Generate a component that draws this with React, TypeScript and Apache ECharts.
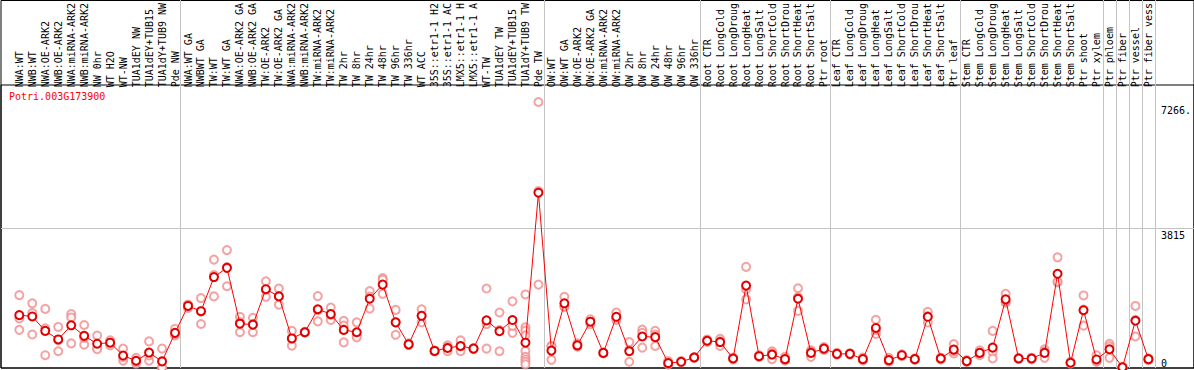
import React, { useEffect, useRef } from "react";
import * as echarts from "echarts";

const geneName = "Potri.003G173900";

const categories = [
  "NWA:WT", "NWB:WT", "NWA:OE-ARK2", "NWB:OE-ARK2", "NWA:miRNA-ARK2", "NWB:miRNA-ARK2",
  "NW 0hr", "WT H2O", "WT-NW", "TUA1dEY NW", "TUA1dEY+TUB15", "TUA1dY+TUB9 NW", "Pde NW",
  "NWA:WT GA", "NWBWT GA", "TW:WT", "TW:WT GA", "NWA:OE-ARK2 GA", "NWB:OE-ARK2 GA",
  "TW:OE-ARK2", "TW:OE-ARK2 GA", "NWA:miRNA-ARK2", "NWB:miRNA-ARK2", "TW:miRNA-ARK2",
  "TW:miRNA-ARK2", "TW 2hr", "TW 8hr", "TW 24hr", "TW 48hr", "TW 96hr", "TW 336hr",
  "WT ACC", "35S::etr1-1 H2", "35S::etr1-1 AC", "LMX5::etr1-1 H", "LMX5::etr1-1 A",
  "WT-TW", "TUA1dEY TW", "TUA1dEY+TUB15", "TUA1dY+TUB9 TW", "Pde TW",
  "OW:WT", "OW:WT GA", "OW:OE-ARK2", "OW:OE-ARK2 GA", "OW:miRNA-ARK2", "OW:miRNA-ARK2",
  "OW 2hr", "OW 8hr", "OW 24hr", "OW 48hr", "OW 96hr", "OW 336hr",
  "Root CTR", "Root LongCold", "Root LongDroug", "Root LongHeat", "Root LongSalt",
  "Root ShortCold", "Root ShortDrou", "Root ShortHeat", "Root ShortSalt", "Ptr root",
  "Leaf CTR", "Leaf LongCold", "Leaf LongDroug", "Leaf LongHeat", "Leaf LongSalt",
  "Leaf ShortCold", "Leaf ShortDrou", "Leaf ShortHeat", "Leaf ShortSalt", "Ptr leaf",
  "Stem CTR", "Stem LongCold", "Stem LongDroug", "Stem LongHeat", "Stem LongSalt",
  "Stem ShortCold", "Stem ShortDrou", "Stem ShortHeat", "Stem ShortSalt", "Ptr shoot",
  "Ptr xylem", "Ptr phloem", "Ptr fiber", "Ptr vessel", "Ptr fiber vess",
];

const means = [
  1463, 1426, 1027, 790, 1181, 890, 672, 700, 345, 200, 427, 182, 972,
  1717, 1572, 2516, 2771, 1226, 1199, 2180, 1981, 818, 989, 1626, 1490, 1054, 989,
  1916, 2307, 1263, 654, 1444, 472, 554, 608, 536, 1317, 1017, 1327, 700, 4850,
  481, 1790, 627, 1281, 418, 1417, 463, 872, 854, 136, 172, 291,
  754, 718, 263, 2280, 327, 372, 245, 1916, 418, 536,
  391, 391, 245, 1108, 218, 354, 245, 1417, 263, 509,
  191, 418, 563, 1899, 263, 263, 418, 2607, 145, 1599,
  236, 518, 18, 1308, 245,
];

const replicates = [
  [2016, 1371, 1055], [1790, 1517, 926], [1635, 1099, 354], [1136, 463, 770],
  [1490, 1399, 681], [1190, 645, 835], [899, 554, 518], [763, 672, 627],
  [536, 200, 300], [282, 118, 172], [736, 200, 345], [536, 15, 10], [1081, 899, 935],
  [1753, 1662, 1735], [1935, 1218, 1563], [2998, 2570, 1981], [3262, 2262, 2790],
  [1417, 989, 1272], [1390, 989, 1218], [2398, 1970, 2172], [2199, 1753, 1991],
  [1027, 618, 809], [1000, 975, 992], [1989, 1290, 1600], [1671, 1327, 1472],
  [1308, 1172, 709], [1263, 899, 845], [2126, 1644, 1978], [2489, 2443, 2053],
  [1608, 918, 1263], [680, 640, 642], [1626, 1263, 1444], [490, 460, 466],
  [627, 463, 570], [763, 463, 600], [550, 520, 538], [2199, 536, 1216],
  [1535, 463, 1052], [1844, 972, 1165],
  [2035, 1126, 1036, 899, 472, 309, 236, 172, 100],
  [7360, 2307, 4894],
  [608, 227, 608], [1970, 1700, 1700], [680, 590, 611], [1350, 1280, 1210],
  [430, 400, 424], [1535, 1327, 1390], [718, 172, 500], [1063, 972, 563],
  [1027, 608, 927], [191, 100, 118], [190, 160, 166], [300, 280, 293],
  [790, 720, 752], [809, 608, 737], [290, 240, 259], [2798, 2171, 1899],
  [350, 310, 321], [463, 245, 409], [308, 218, 210], [2207, 1580, 1960],
  [490, 308, 455], [580, 500, 528],
  [420, 370, 383], [410, 372, 391], [290, 210, 235], [1335, 945, 1044],
  [282, 190, 182], [380, 330, 352], [270, 225, 240], [1553, 1263, 1435],
  [290, 240, 259], [663, 400, 465],
  [220, 170, 183], [490, 354, 410], [1027, 445, 263], [2053, 1808, 1836],
  [280, 250, 259], [285, 240, 264], [518, 282, 454], [3061, 2371, 2390],
  [170, 120, 145], [2008, 1172, 1617],
  [354, 172, 182], [672, 282, 600], [30, 10, 14], [1717, 872, 1335], [270, 220, 245],
];

// group boundaries (index of first category of each group, plus the end)
const groupStarts = [0, 13, 41, 53, 63, 73, 84, 85, 86, 87, 88];

const yTickValues = [0, 3815, 7266];
const yTickLabels = ["0", "3815", "7266."];
const gridLineValue = 3815;
const yMax = 7712;

const FONT = "DejaVu Sans Mono";

export default function App() {
  const ref = useRef<HTMLDivElement>(null);

  useEffect(() => {
    document.body.style.margin = "0";
    const chart = echarts.init(ref.current!, null, { renderer: "svg" });

    const fmtY = (v: number) => {
      const k = yTickValues.indexOf(v);
      return k >= 0 ? yTickLabels[k] : String(v);
    };

    const hiddenAxis = (extra: any) => ({
      show: false,
      axisLine: { show: false },
      axisTick: { show: false },
      axisLabel: { show: false },
      splitLine: { show: false },
      ...extra,
    });

    const repData: number[][] = [];
    replicates.forEach((arr, i) => arr.forEach((v) => repData.push([i, v])));

    const option: any = {
      animation: false,
      backgroundColor: "#ffffff",
      title: {
        text: geneName,
        left: 9,
        top: 91,
        padding: 0,
        textStyle: { color: "#ff0000", fontSize: 10, fontFamily: FONT, fontWeight: "normal" },
      },
      grid: [
        // 0: frame (top, left, bottom)
        { left: 1, top: 0.5, width: 1230, height: 367.5, show: true, borderColor: "#000", borderWidth: 1, backgroundColor: "transparent" },
        // 1: plot band full width (header separator line + horizontal gridline)
        { left: 1, top: 85, width: 1230, height: 283, show: true, borderColor: "#000", borderWidth: 1, backgroundColor: "transparent" },
        // 2: vertical group lines full height
        { left: 12.8, top: 0, width: 1144, height: 368 },
        // 3: data
        { left: 12.8, top: 85, width: 1144, height: 283 },
      ],
      xAxis: [
        {
          gridIndex: 3,
          type: "category",
          position: "top",
          data: categories,
          boundaryGap: true,
          axisLine: { show: false },
          axisTick: { show: false },
          splitLine: { show: false },
          axisLabel: {
            interval: 0,
            rotate: 90,
            margin: 2,
            fontFamily: FONT,
            fontSize: 10,
            color: "#000",
          },
        },
        hiddenAxis({ gridIndex: 2, type: "value", min: -0.5, max: 87.5 }),
        hiddenAxis({ gridIndex: 1, type: "value", min: 0, max: 1 }),
        hiddenAxis({ gridIndex: 0, type: "value", min: 0, max: 1 }),
      ],
      yAxis: [
        {
          gridIndex: 3,
          type: "value",
          position: "right",
          min: 0,
          max: yMax,
          axisLine: { show: false },
          axisTick: { show: false, customValues: yTickValues.slice(1) },
          splitLine: { show: false },
          axisLabel: {
            customValues: yTickValues.slice(1),
            margin: 6,
            verticalAlign: "top",
            fontFamily: FONT,
            fontSize: 10,
            color: "#000",
            formatter: fmtY,
          },
        },
        {
          gridIndex: 3,
          type: "value",
          position: "right",
          min: 0,
          max: yMax,
          axisLine: { show: false },
          axisTick: { show: false, customValues: [yTickValues[0]] },
          splitLine: { show: false },
          axisLabel: {
            customValues: [yTickValues[0]],
            margin: 6,
            verticalAlign: "bottom",
            fontFamily: FONT,
            fontSize: 10,
            color: "#000",
            formatter: fmtY,
          },
        },
        hiddenAxis({ gridIndex: 2, type: "value", min: 0, max: 1 }),
        hiddenAxis({ gridIndex: 1, type: "value", min: 0, max: yMax }),
        hiddenAxis({ gridIndex: 0, type: "value", min: 0, max: 1 }),
      ],
      series: [
        {
          type: "line",
          xAxisIndex: 1,
          yAxisIndex: 2,
          data: [],
          silent: true,
          z: 1,
          markLine: {
            silent: true,
            symbol: ["none", "none"],
            label: { show: false },
            lineStyle: { color: "#c4c4c4", width: 1, type: "solid" },
            data: groupStarts.map((g) => ({ xAxis: g - 0.615 })),
          },
        },
        {
          type: "line",
          xAxisIndex: 2,
          yAxisIndex: 3,
          data: [],
          silent: true,
          z: 1,
          markLine: {
            silent: true,
            symbol: ["none", "none"],
            label: { show: false },
            lineStyle: { color: "#c4c4c4", width: 1, type: "solid" },
            data: [{ yAxis: gridLineValue }],
          },
        },
        {
          type: "scatter",
          xAxisIndex: 0,
          yAxisIndex: 0,
          data: repData,
          symbol: "emptyCircle",
          symbolSize: 8,
          z: 5,
          itemStyle: { color: "#f08c8c", borderColor: "#f08c8c", borderWidth: 1 },
        },
        {
          type: "line",
          xAxisIndex: 0,
          yAxisIndex: 0,
          data: means,
          symbol: "emptyCircle",
          symbolSize: 8,
          showAllSymbol: true,
          z: 6,
          lineStyle: { color: "#ff0000", width: 1 },
          itemStyle: { color: "#e00000", borderColor: "#e00000", borderWidth: 1.6 },
        },
      ],
    };

    chart.setOption(option);
    return () => chart.dispose();
  }, []);

  return <div ref={ref} style={{ width: 1194, height: 370 }} />;
}
